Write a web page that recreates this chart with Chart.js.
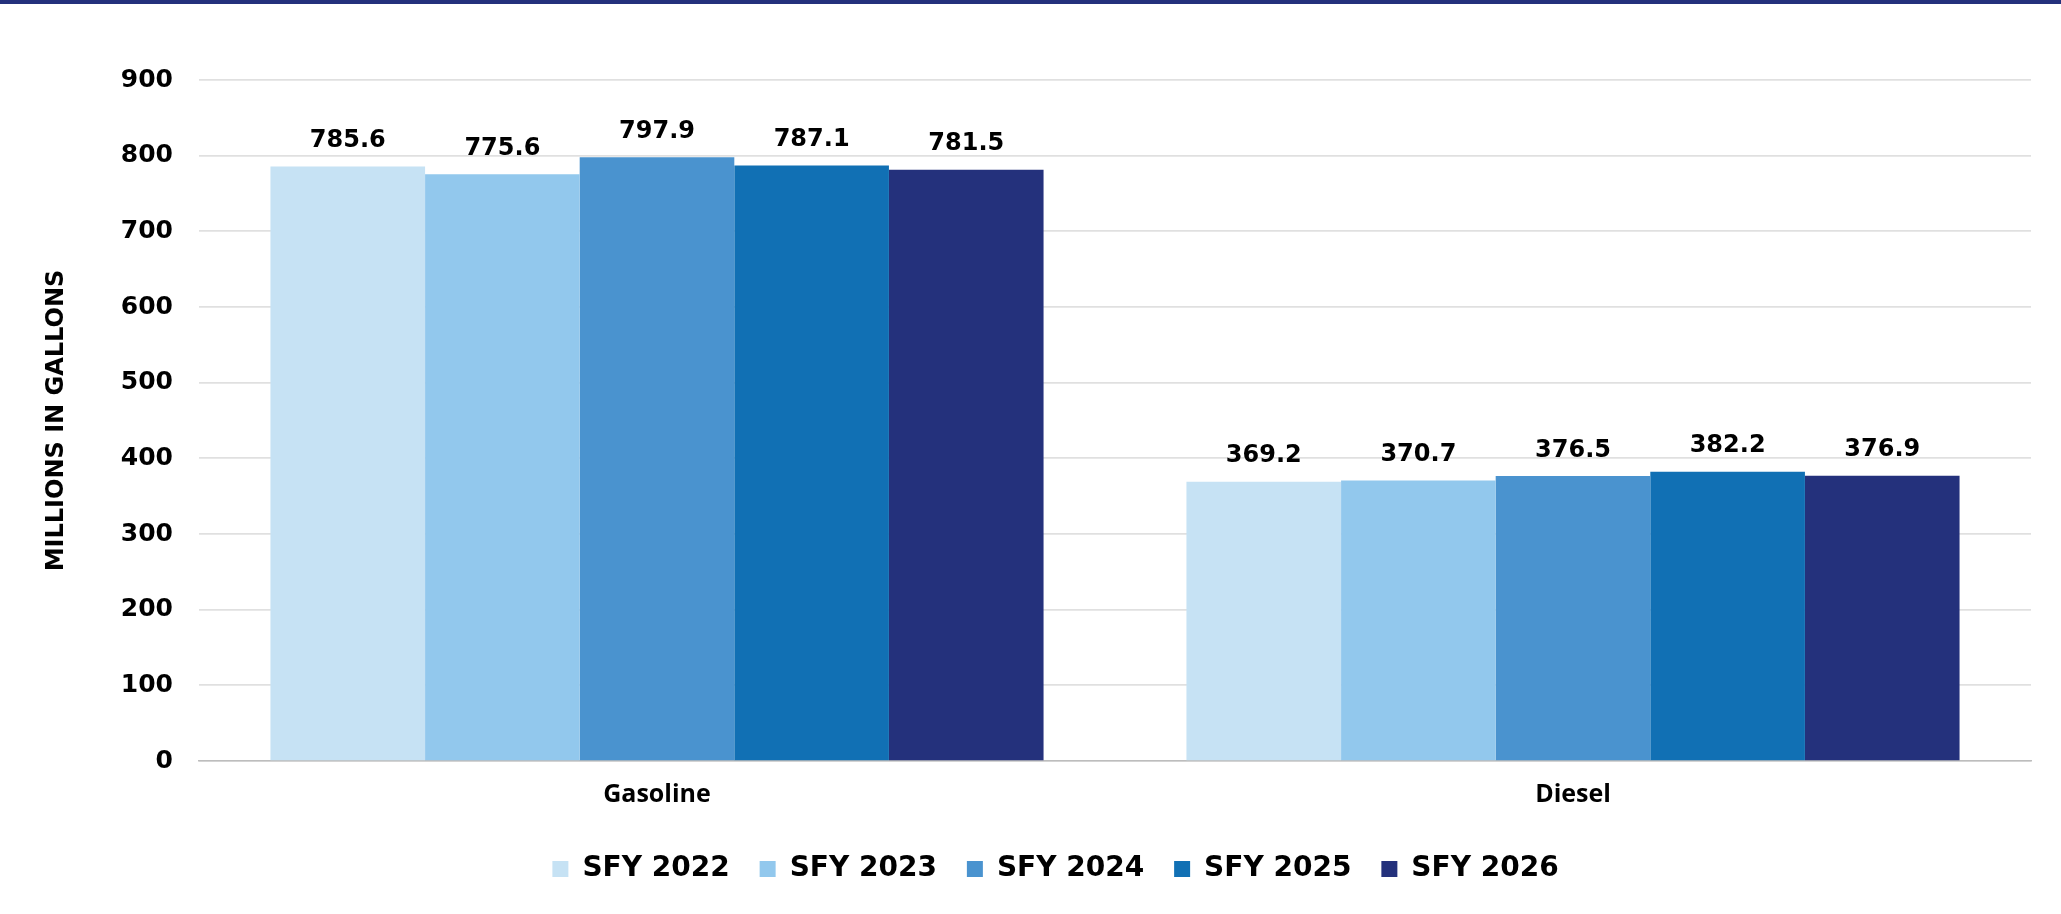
<!DOCTYPE html>
<html>
<head>
<meta charset="utf-8">
<script src="https://cdn.jsdelivr.net/npm/chart.js@4"></script>
<style>
  html, body { margin: 0; padding: 0; background: #fff; }
  #wrap { position: relative; width: 2061px; height: 914px; }
  #topbar { position: absolute; left: 0; top: 0; width: 2061px; height: 4px; background: #24317c; }
  canvas { display: block; }
</style>
</head>
<body>
<div id="wrap">
  <canvas id="c" width="2061" height="914"></canvas>
  <div id="topbar"></div>
</div>
<script>
const categories = ["Gasoline", "Diesel"];
const seriesNames = ["SFY 2022", "SFY 2023", "SFY 2024", "SFY 2025", "SFY 2026"];
const sfy2022 = [785.6, 369.2];
const sfy2023 = [775.6, 370.7];
const sfy2024 = [797.9, 376.5];
const sfy2025 = [787.1, 382.2];
const sfy2026 = [781.5, 376.9];
const seriesColors = ["#c6e2f4", "#92c8ed", "#4a93cf", "#1170b4", "#24317c"];
const yTitle = "MILLIONS IN GALLONS";
const yMin = 0, yMax = 900, yStep = 100;

const seriesValues = [sfy2022, sfy2023, sfy2024, sfy2025, sfy2026];

const valueLabels = {
  id: 'valueLabels',
  afterDatasetsDraw(chart) {
    const ctx = chart.ctx;
    ctx.save();
    ctx.font = 'bold 24px "DejaVu Sans"';
    ctx.fillStyle = '#000';
    ctx.textAlign = 'center';
    ctx.textBaseline = 'alphabetic';
    chart.data.datasets.forEach((ds, i) => {
      chart.getDatasetMeta(i).data.forEach((bar, j) => {
        ctx.fillText(ds.data[j].toFixed(1), bar.x, bar.y - 19.5);
      });
    });
    ctx.restore();
  }
};

new Chart(document.getElementById('c'), {
  type: 'bar',
  data: {
    labels: categories,
    datasets: seriesNames.map((name, i) => ({
      label: name,
      data: seriesValues[i],
      backgroundColor: seriesColors[i],
      borderWidth: 0,
      barPercentage: 1.0,
      categoryPercentage: 0.844
    }))
  },
  options: {
    responsive: false,
    devicePixelRatio: 1,
    animation: false,
    layout: { padding: { left: 80, right: 30, top: 80, bottom: 21 } },
    plugins: {
      tooltip: { enabled: false },
      legend: {
        position: 'bottom',
        labels: {
          boxWidth: 16,
          boxHeight: 16,
          padding: 30,
          color: '#000',
          font: { family: '"DejaVu Sans"', size: 28, weight: 'bold' }
        }
      }
    },
    scales: {
      x: {
        grid: { display: false, drawTicks: false },
        border: { display: true, color: '#bdbdbd', width: 1.5 },
        ticks: {
          color: '#000',
          padding: 19,
          font: { family: '"Open Sans"', size: 25, weight: 'bold' }
        },
        afterFit(scale) { scale.height = 64; }
      },
      y: {
        min: yMin,
        max: yMax,
        grid: { color: '#e0e0e0', lineWidth: 1.7, drawTicks: false },
        border: { display: false },
        ticks: {
          stepSize: yStep,
          color: '#000',
          padding: 26,
          font: { family: '"DejaVu Sans"', size: 25, weight: 'bold' }
        },
        title: {
          display: true,
          text: yTitle,
          color: '#000',
          padding: { top: -38, bottom: 0 },
          font: { family: '"DejaVu Sans"', size: 24, weight: 'bold' }
        },
        afterFit(scale) { scale.width = 119; }
      }
    }
  },
  plugins: [valueLabels]
});
</script>
</body>
</html>
